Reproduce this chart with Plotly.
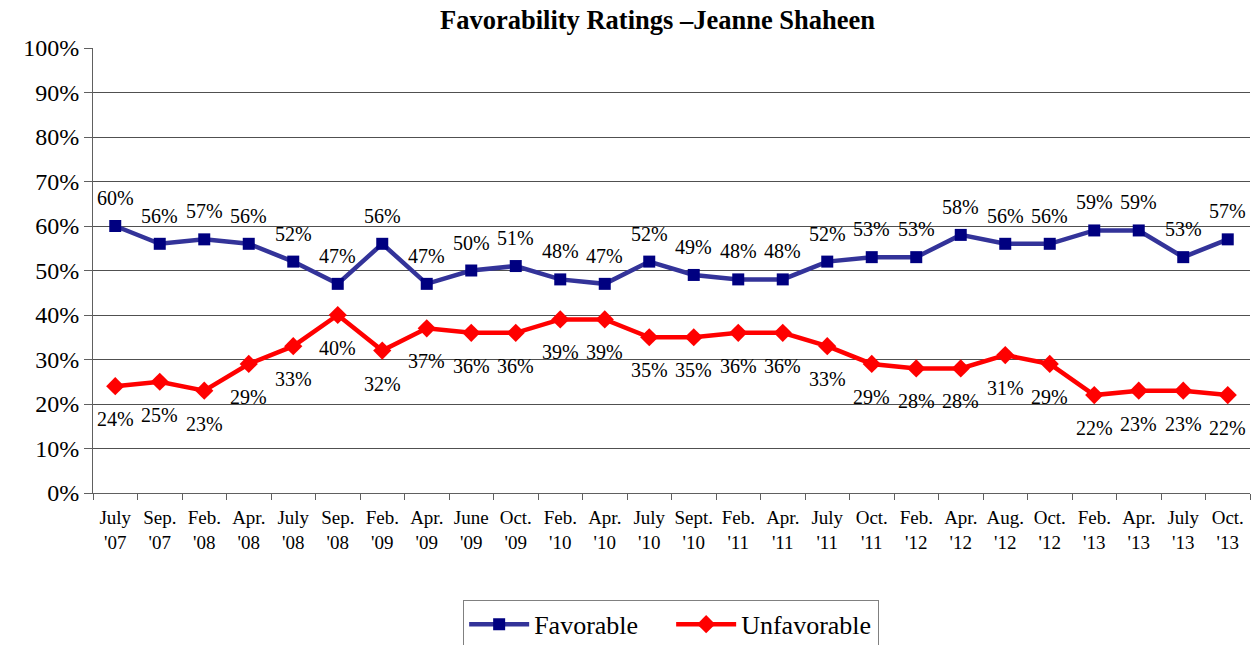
import plotly.graph_objects as go

categories = ["July<br>'07", "Sep.<br>'07", "Feb.<br>'08", "Apr.<br>'08", "July<br>'08", "Sep.<br>'08",
              "Feb.<br>'09", "Apr.<br>'09", "June<br>'09", "Oct.<br>'09", "Feb.<br>'10", "Apr.<br>'10",
              "July<br>'10", "Sept.<br>'10", "Feb.<br>'11", "Apr.<br>'11", "July<br>'11", "Oct.<br>'11",
              "Feb.<br>'12", "Apr.<br>'12", "Aug.<br>'12", "Oct.<br>'12", "Feb.<br>'13", "Apr.<br>'13",
              "July<br>'13", "Oct.<br>'13"]
favorable = [60, 56, 57, 56, 52, 47, 56, 47, 50, 51, 48, 47, 52, 49, 48, 48, 52, 53, 53, 58, 56, 56, 59, 59, 53, 57]
unfavorable = [24, 25, 23, 29, 33, 40, 32, 37, 36, 36, 39, 39, 35, 35, 36, 36, 33, 29, 28, 28, 31, 29, 22, 23, 23, 22]
y_ticks = [0, 10, 20, 30, 40, 50, 60, 70, 80, 90, 100]

FONT = '"Liberation Serif", "Times New Roman", serif'

fig = go.Figure()
fig.add_trace(go.Scatter(
    x=categories, y=favorable, name="Favorable", mode="lines+markers",
    line=dict(color="#333399", width=4.5),
    marker=dict(symbol="square", size=12, color="#000080"),
))
fig.add_trace(go.Scatter(
    x=categories, y=unfavorable, name="Unfavorable", mode="lines+markers",
    line=dict(color="#FF0000", width=4.5),
    marker=dict(symbol="diamond", size=14, color="#FF0000"),
))

annotations = []
for c, v in zip(categories, favorable):
    annotations.append(dict(x=c, y=v, xref="x", yref="y", text=f"{v}%", showarrow=False,
                            yshift=28, font=dict(family=FONT, size=20, color="black")))
for c, v in zip(categories, unfavorable):
    annotations.append(dict(x=c, y=v, xref="x", yref="y", text=f"{v}%", showarrow=False,
                            yshift=-33, font=dict(family=FONT, size=20, color="black")))
annotations.append(dict(x=0.488, y=1.0, xref="paper", yref="paper", yshift=28, yanchor="middle",
                        showarrow=False,
                        text="<b>Favorability Ratings –Jeanne Shaheen</b>",
                        font=dict(family=FONT, size=26.5, color="black")))

fig.update_layout(
    width=1251, height=645,
    margin=dict(l=93, r=1, t=48, b=152, autoexpand=False),
    paper_bgcolor="white", plot_bgcolor="white",
    font=dict(family=FONT, color="black"),
    annotations=annotations,
    showlegend=True,
    legend=dict(orientation="h", x=0.4997, xanchor="center", y=-0.24, yanchor="top",
                font=dict(family=FONT, size=26, color="black"),
                bordercolor="#808080", borderwidth=1, bgcolor="white",
                itemwidth=60, entrywidth=132, traceorder="normal"),
    xaxis=dict(type="category", showgrid=False, showline=True, linecolor="#606060", linewidth=1,
               ticks="outside", tickson="boundaries", ticklen=6, tickcolor="#606060",
               tickangle=0, automargin=False, ticklabelstandoff=7,
               tickfont=dict(family=FONT, size=19, color="black"), range=[-0.5, 25.5]),
    yaxis=dict(range=[0, 100], tickvals=y_ticks, ticktext=[f"{t}%" for t in y_ticks],
               showgrid=True, gridcolor="#505050", gridwidth=1, automargin=False,
               showline=True, linecolor="#606060", linewidth=1,
               ticks="outside", ticklen=8, tickcolor="#606060",
               tickfont=dict(family=FONT, size=24, color="black"), zeroline=False),
)

fig.write_html("out.html", config={"displayModeBar": False},
               post_script="document.body.style.margin='0';")
